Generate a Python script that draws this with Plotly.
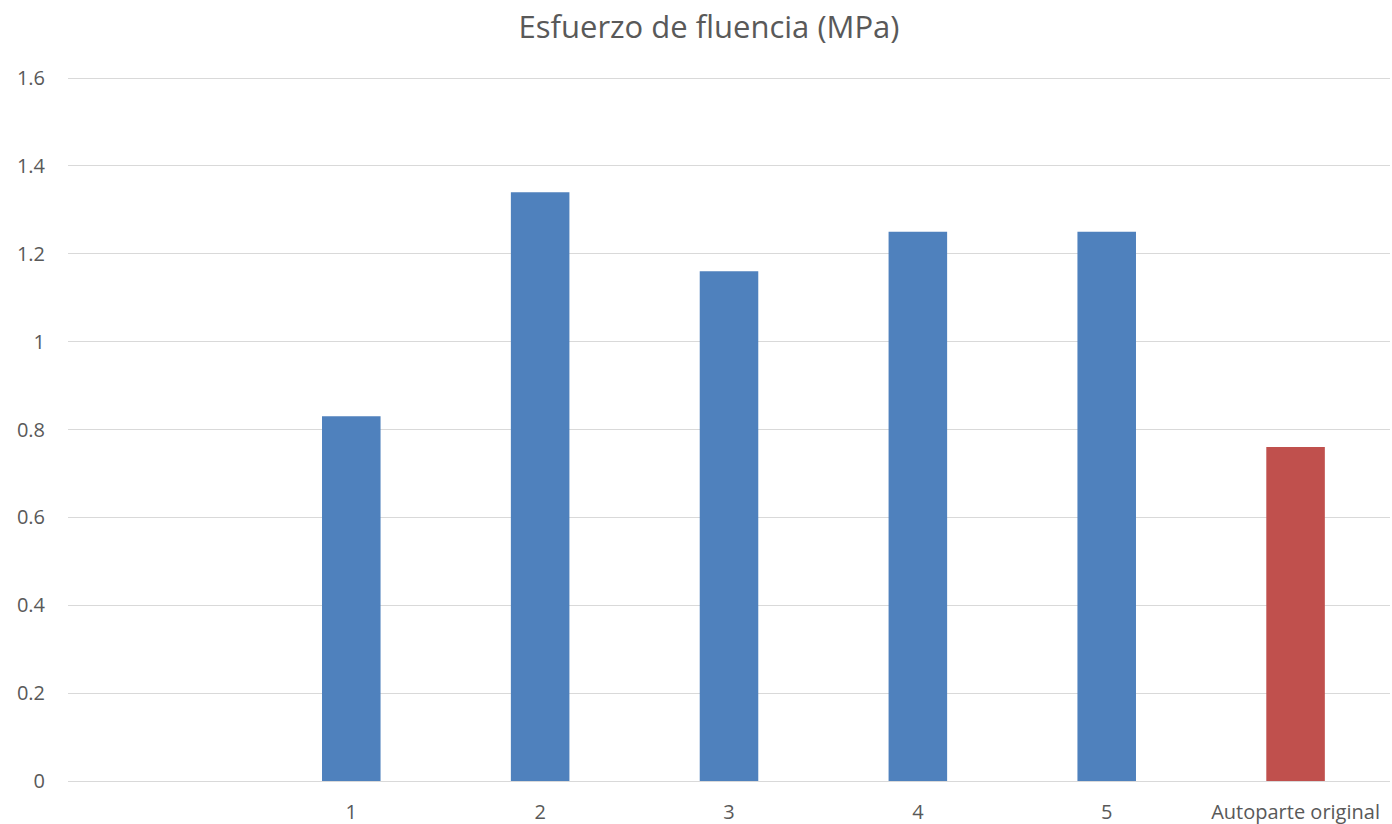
import plotly.graph_objects as go

# Datos del gráfico
categorias = ["1", "2", "3", "4", "5", "Autoparte original"]
posiciones = [1, 2, 3, 4, 5, 6]
esfuerzo = [0.83, 1.34, 1.16, 1.25, 1.25, 0.76]
colores = ["#4f81bd", "#4f81bd", "#4f81bd", "#4f81bd", "#4f81bd", "#c0504d"]
ticks_y = [0, 0.2, 0.4, 0.6, 0.8, 1.0, 1.2, 1.4, 1.6]
etiquetas_y = ["0", "0.2", "0.4", "0.6", "0.8", "1", "1.2", "1.4", "1.6"]

fuente = "'Open Sans', sans-serif"
gris = "#595959"

fig = go.Figure(
    go.Bar(
        x=posiciones,
        y=esfuerzo,
        marker=dict(color=colores, line=dict(width=0)),
        width=0.31,
        hoverinfo="x+y",
    )
)

fig.update_layout(
    width=1392,
    height=824,
    margin=dict(l=68, r=2, t=76, b=43),
    paper_bgcolor="white",
    plot_bgcolor="white",
    showlegend=False,
    font=dict(family=fuente, color=gris),
    title=dict(
        text="Esfuerzo de fluencia (MPa)",
        x=709 / 1392,
        xanchor="center",
        y=1 - 27 / 824,
        yanchor="middle",
        font=dict(size=31, color=gris, family=fuente),
    ),
    xaxis=dict(
        range=[-0.5, 6.5],
        tickmode="array",
        tickvals=posiciones,
        ticktext=categorias,
        showgrid=False,
        zeroline=False,
        showline=False,
        ticks="",
        ticklabelstandoff=17,
        tickfont=dict(size=20, color=gris),
        automargin=False,
        fixedrange=True,
    ),
    yaxis=dict(
        range=[0, 1.6046],
        tickmode="array",
        tickvals=ticks_y,
        ticktext=etiquetas_y,
        showgrid=True,
        gridcolor="#d9d9d9",
        gridwidth=1.3,
        zeroline=True,
        zerolinecolor="#d9d9d9",
        zerolinewidth=1.3,
        showline=False,
        ticks="",
        ticklabelstandoff=22,
        tickfont=dict(size=20, color=gris),
        automargin=False,
        fixedrange=True,
    ),
)

fig.write_html("out.html")
